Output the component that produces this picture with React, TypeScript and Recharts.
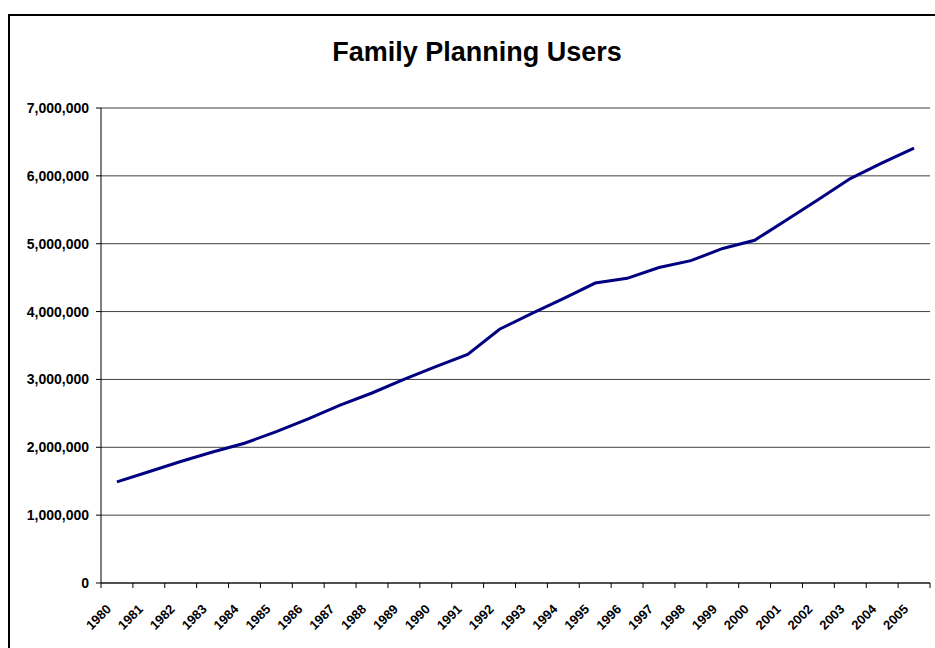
import React from "react";
import {
    LineChart,
    Line,
    XAxis,
    YAxis,
    CartesianGrid,
} from "recharts";

// family planning users, by year
const years = [
    "1980", "1981", "1982", "1983", "1984", "1985", "1986", "1987", "1988",
    "1989", "1990", "1991", "1992", "1993", "1994", "1995", "1996", "1997",
    "1998", "1999", "2000", "2001", "2002", "2003", "2004", "2005",
];
const users = [
    1490000, 1640000, 1790000, 1930000, 2060000, 2230000, 2420000, 2620000,
    2800000, 3000000, 3190000, 3370000, 3740000, 3970000, 4190000, 4420000,
    4490000, 4650000, 4750000, 4930000, 5050000, 5350000, 5650000, 5960000,
    6190000, 6410000,
];
const yTicks = [0, 1000000, 2000000, 3000000, 4000000, 5000000, 6000000, 7000000];

const data = years.map((year, i) => ({ year, users: users[i] }));

const FONT = '"Liberation Sans", Arial, sans-serif';
const W = 935;
const H = 648;
const PLOT_LEFT = 101;
const PLOT_RIGHT = 930;
const HALF_STEP = (PLOT_RIGHT - PLOT_LEFT) / years.length / 2;

const YearTick = (props: any) => {
    const { x, y, payload, index } = props;
    const tx = x - 5;
    const ty = y + 27;
    return (
        <g>
            <line x1={x - HALF_STEP} x2={x - HALF_STEP} y1={y} y2={y + 5} stroke="#000" />
            {index === years.length - 1 && (
                <line x1={x + HALF_STEP} x2={x + HALF_STEP} y1={y} y2={y + 5} stroke="#000" />
            )}
            <text
                x={tx}
                y={ty}
                transform={`rotate(-45, ${tx}, ${ty})`}
                textAnchor="end"
                fontFamily={FONT}
                fontWeight="bold"
                fontSize={13}
                fill="#000"
            >
                {payload.value}
            </text>
        </g>
    );
};

export default function App() {
    return (
        <div style={{ position: "absolute", left: 0, top: 0, width: W, height: H, overflow: "hidden", background: "#fff" }}>
            {/* outer chart frame, runs off the right and bottom */}
            <div
                style={{
                    position: "absolute",
                    left: 8,
                    top: 14,
                    width: 940,
                    height: 700,
                    borderLeft: "2px solid #000",
                    borderTop: "2px solid #000",
                }}
            />
            <div
                style={{
                    position: "absolute",
                    left: 477,
                    top: 39,
                    transform: "translateX(-50%)",
                    whiteSpace: "nowrap",
                    fontFamily: FONT,
                    fontWeight: "bold",
                    fontSize: 27,
                    lineHeight: "27px",
                    color: "#000",
                }}
            >
                Family Planning Users
            </div>
            <div style={{ position: "absolute", left: 0, top: 0 }}>
                <LineChart
                    width={W}
                    height={H}
                    data={data}
                    margin={{ top: 108, right: 5, left: 8, bottom: 15 }}
                >
                    <CartesianGrid vertical={false} stroke="#404040" />
                    <XAxis
                        dataKey="year"
                        height={50}
                        interval={0}
                        padding={{ left: HALF_STEP, right: HALF_STEP }}
                        tickSize={0}
                        tickMargin={0}
                        tickLine={false}
                        axisLine={{ stroke: "#000" }}
                        tick={<YearTick />}
                    />
                    <YAxis
                        width={93}
                        domain={[0, 7000000]}
                        ticks={yTicks}
                        interval={0}
                        tickSize={5}
                        tickMargin={7}
                        axisLine={{ stroke: "#000" }}
                        tickLine={{ stroke: "#000" }}
                        tickFormatter={(v: number) => v.toLocaleString("en-US")}
                        tick={{ fill: "#000", fontFamily: FONT, fontWeight: "bold", fontSize: 14 }}
                    />
                    <YAxis
                        yAxisId="right"
                        orientation="right"
                        width={0}
                        tick={false}
                        tickLine={false}
                        axisLine={{ stroke: "#a6a6a6", strokeWidth: 2 }}
                    />
                    <Line
                        type="linear"
                        dataKey="users"
                        stroke="#000080"
                        strokeWidth={3}
                        dot={false}
                        isAnimationActive={false}
                    />
                </LineChart>
            </div>
        </div>
    );
}
